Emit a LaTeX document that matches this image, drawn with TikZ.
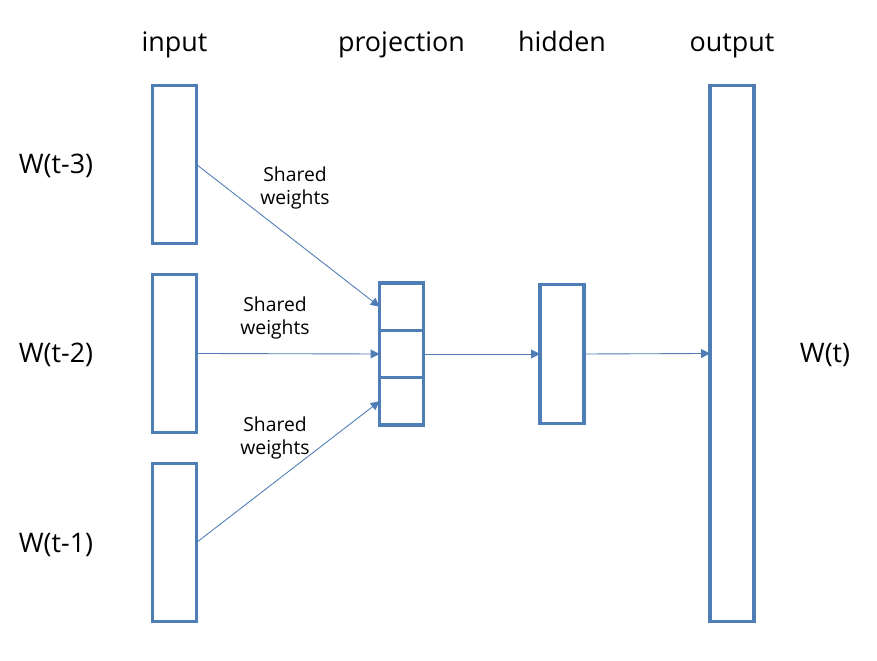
\documentclass[tikz,border=0pt]{standalone}
\usepackage{fontspec}
\setmainfont{Open Sans}
\usetikzlibrary{arrows.meta,positioning}
\definecolor{boxblue}{RGB}{79,125,182}
\tikzset{
  layer/.style={draw=boxblue,line width=1.8pt,fill=white,minimum width=0.88cm,inner sep=0pt,outer sep=0pt},
  link/.style={draw=boxblue,line width=0.5pt,-{Triangle[length=5pt,width=5pt]}},
  title/.style={font=\fontsize{15.3pt}{15pt}\selectfont,text height=11pt,text depth=3.5pt},
  note/.style={font=\fontsize{11pt}{13pt}\selectfont,align=center}
}
\begin{document}
\begin{tikzpicture}
  \useasboundingbox (0,0) rectangle (17.54,13.22);
  % input words
  \node[layer,minimum height=3.16cm] (in3) at (3.49,9.93) {};
  \node[layer,minimum height=3.16cm] (in2) at (3.49,6.15) {};
  \node[layer,minimum height=3.16cm] (in1) at (3.49,2.37) {};
  % projection cells
  \node[layer,minimum height=0.947cm] (proj2) at (8.03,6.14) {};
  \node[layer,minimum height=0.947cm,above=0pt of proj2] (proj1) {};
  \node[layer,minimum height=0.947cm,below=0pt of proj2] (proj3) {};
  \node[layer,minimum height=2.78cm] (hid) at (11.24,6.14) {};
  \node[layer,minimum height=10.72cm] (out) at (14.64,6.15) {};

  % column titles
  \node[title] (tin) at (3.49,12.32) {input};
  \node[title] (tproj) at (8.03,12.32) {projection};
  \node[title] (thid) at (11.24,12.32) {hidden};
  \node[title] (tout) at (14.64,12.32) {output};
  \node[title] (w3) at (1.12,9.88) {W(t-3)};
  \node[title] (w2) at (1.12,6.1) {W(t-2)};
  \node[title] (w1) at (1.12,2.3) {W(t-1)};
  \node[title] (wt) at (16.5,6.1) {W(t)};

  % links
  \draw[link] (in3.east) -- (proj1.west);
  \draw[link] (in2.east) -- (proj2.west);
  \draw[link] (in1.east) -- (proj3.west);
  \draw[link] (proj2.east) -- (hid.west);
  \draw[link] (hid.east) -- (out.west);
  \node[note] (sw3) at (5.9,9.46) {Shared\\weights};
  \node[note] (sw2) at (5.5,6.86) {Shared\\weights};
  \node[note] (sw1) at (5.5,4.46) {Shared\\weights};
\end{tikzpicture}
\end{document}
